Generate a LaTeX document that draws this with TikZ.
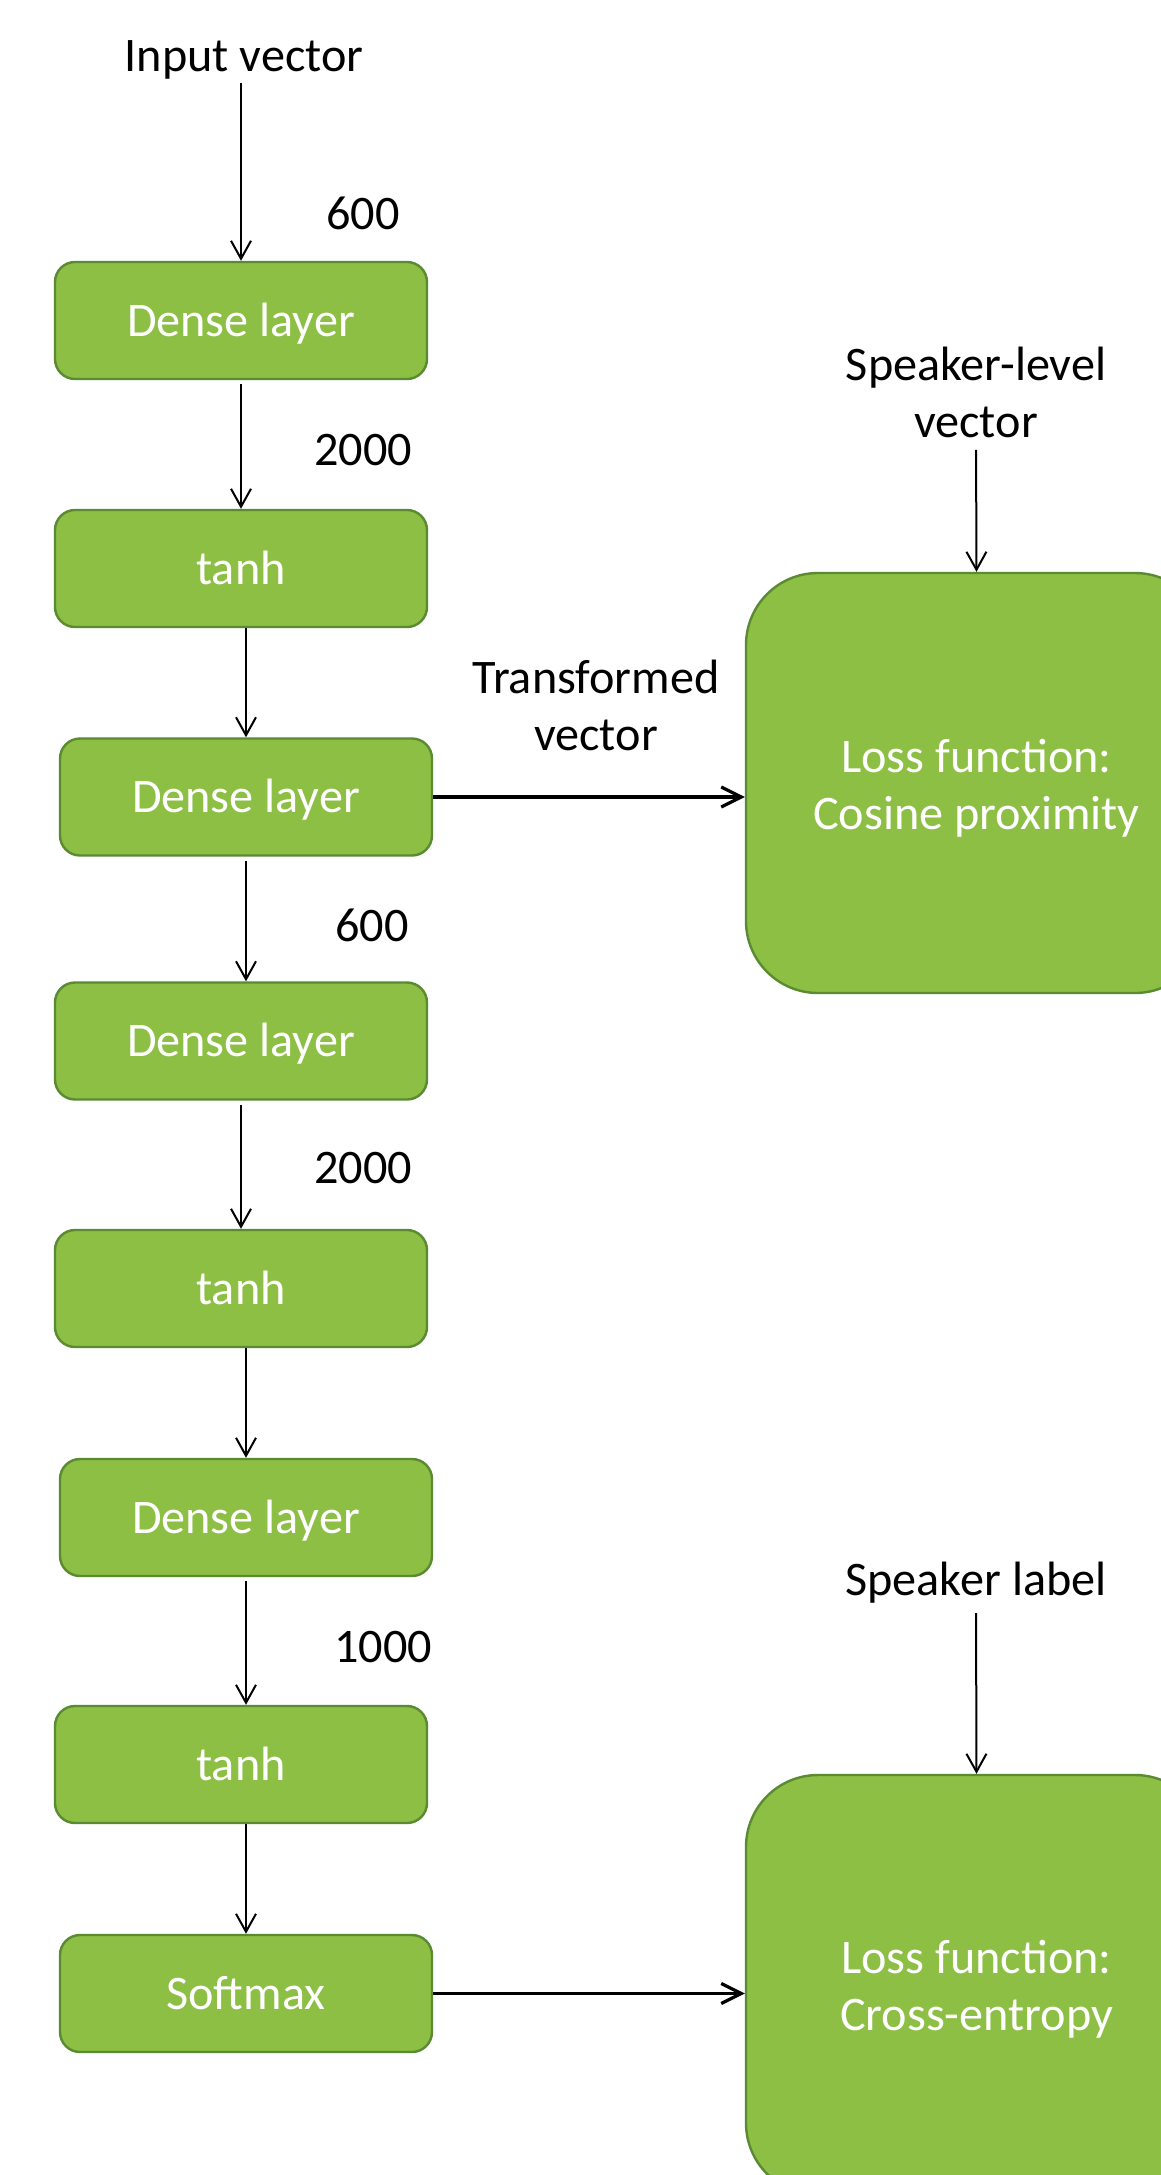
\documentclass[tikz,border=0pt]{standalone}
\usepackage{fontspec}
\setmainfont{Carlito}
\usetikzlibrary{arrows.meta}
\definecolor{boxgreen}{HTML}{8CBF44}
\definecolor{edgegreen}{HTML}{5A8A32}
\begin{document}
\begin{tikzpicture}[x=0.5pt,y=-0.5pt,
  txt/.style={font=\fontsize{24.1}{28.5}\selectfont},
  layerbox/.style={txt, draw=edgegreen, line width=1.2pt, fill=boxgreen, rounded corners=10pt, minimum width=186pt, minimum height=58.5pt, text=white, inner sep=0pt, text height=15.5pt, text depth=0pt},
  lossbox/.style={txt, draw=edgegreen, line width=1.2pt, fill=boxgreen, text=white, inner sep=0pt, rounded corners=36pt, minimum width=230.5pt, minimum height=210pt, align=center},
  lbl/.style={txt, inner sep=0pt, align=center, anchor=base},
  arr/.style={-{Straight Barb[length=9pt,width=10pt]}, line width=1pt},
  harr/.style={-{Straight Barb[length=10pt,width=10pt]}, line width=1.6pt},
]
\useasboundingbox (0,0) rectangle (1161,2175);
\fill[white] (0,0) rectangle (1161,2175);

% left column
\node[layerbox] (b1) at (241,320.5) {Dense layer};
\node[layerbox] (b2) at (241,568.5) {tanh};
\node[layerbox] (b3) at (246,797) {Dense layer};
\node[layerbox] (b4) at (241,1041) {Dense layer};
\node[layerbox] (b5) at (241,1288.5) {tanh};
\node[layerbox] (b6) at (246,1517.5) {Dense layer};
\node[layerbox] (b7) at (241,1764.5) {tanh};
\node[layerbox] (b8) at (246,1993.5) {Softmax};

% loss boxes
\node[lossbox] (l1) at (976.5,783) {};
\node[lbl, text=white] (l1t) at (976.5,829) {Loss function:\\Cosine proximity};
\node[lossbox] (l2) at (976.5,1985) {};
\node[lbl, text=white] (l2t) at (976.5,2030) {Loss function:\\Cross-entropy};

% labels
\node[lbl] (inp) at (244,71) {Input vector};
\node[lbl] (n1) at (363,229) {600};
\node[lbl] (n2) at (363,465) {2000};
\node[lbl] (tv) at (596,750) {Transformed\\vector};
\node[lbl] (n3) at (372,941) {600};
\node[lbl] (n4) at (363,1183) {2000};
\node[lbl] (n5) at (383,1662) {1000};
\node[lbl] (slv) at (976,437) {Speaker-level\\vector};
\node[lbl] (sl) at (976,1595) {Speaker label};

% connectors
\draw[arr, shorten <=2pt] (inp.south -| b1.north) -- (b1.north);
\draw[arr, shorten <=2pt] (b1.south) -- (b2.north);
\draw[arr] (b2.south -| b3.north) -- (b3.north);
\draw[arr, shorten <=2pt] (b3.south) -- (b3.south |- b4.north);
\draw[arr, shorten <=2pt] (b4.south) -- (b5.north);
\draw[arr] (b5.south -| b6.north) -- (b6.north);
\draw[arr, shorten <=2pt] (b6.south) -- (b6.south |- b7.north);
\draw[arr] (b7.south -| b8.north) -- (b8.north);
\draw[harr] (b3.east) -- (b3.east -| l1.west);
\draw[harr] (b8.east) -- (b8.east -| l2.west);
\draw[arr, shorten <=6pt] (slv.south) -- (l1.north);
\draw[arr, shorten <=5pt] (sl.south) -- (l2.north);
\end{tikzpicture}
\end{document}
